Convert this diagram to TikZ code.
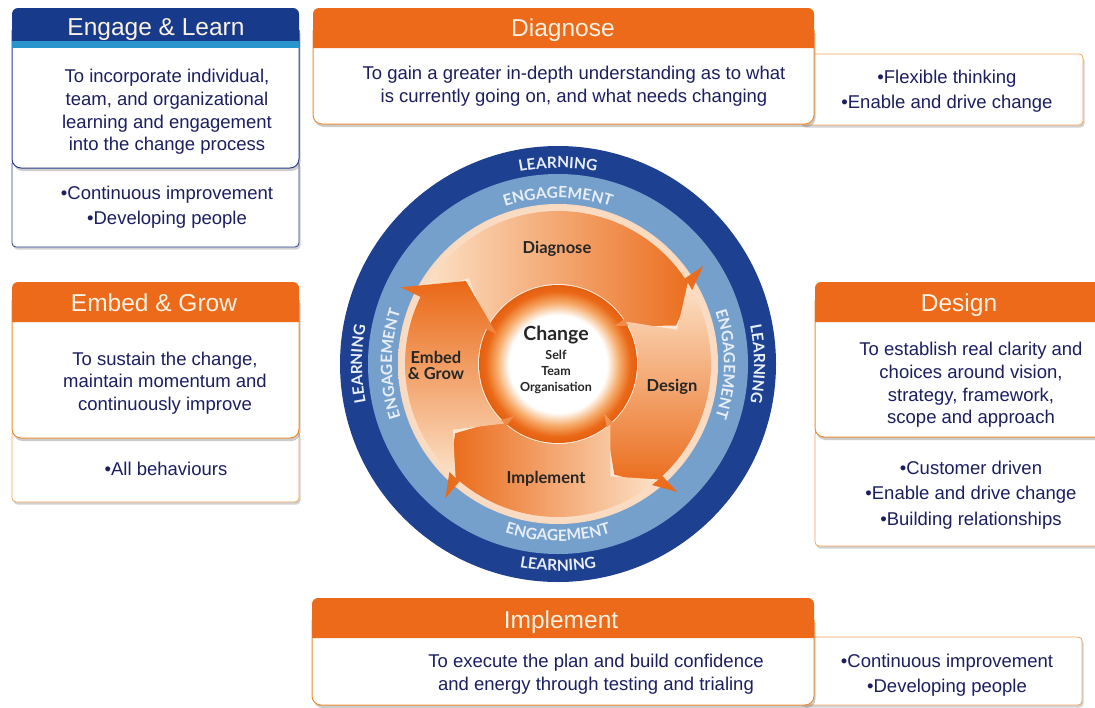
\documentclass[tikz,border=0pt]{standalone}
\usepackage{fontspec}
\setmainfont{Liberation Sans}
\newfontfamily\ringfont{Lato}
\usetikzlibrary{decorations.text,shadows}
\definecolor{cardorange}{RGB}{236,106,26}
\definecolor{cardnavy}{RGB}{24,58,138}
\definecolor{cardsky}{RGB}{40,150,205}
\definecolor{edgeorange}{RGB}{238,140,50}
\definecolor{edgenavy}{RGB}{44,62,140}
\definecolor{inknavy}{RGB}{28,30,96}
\definecolor{headtext}{RGB}{252,242,228}
\definecolor{ringdark}{RGB}{30,64,144}
\definecolor{ringlight}{RGB}{118,160,204}
\definecolor{ringtext}{RGB}{232,238,248}
\definecolor{arrowlight}{RGB}{252,226,200}
\definecolor{arroworange}{RGB}{234,104,22}
\definecolor{rimorange}{RGB}{226,96,16}
\definecolor{peachin}{RGB}{255,246,236}
\definecolor{peachout}{RGB}{249,218,192}
\definecolor{glowmid}{RGB}{246,170,104}
\pgfdeclareradialshading{centreglow}{\pgfpoint{0bp}{0bp}}{color(0bp)=(white); color(15.5bp)=(white); color(19.5bp)=(glowmid); color(23bp)=(arroworange); color(25bp)=(rimorange); color(50bp)=(rimorange)}
\pgfdeclareradialshading{peachdisk}{\pgfpoint{0bp}{0bp}}{color(0bp)=(peachin); color(12bp)=(peachin); color(25bp)=(peachout); color(50bp)=(peachout)}
% tail angle, head angle, shading
\newcommand{\cyclearrow}[3]{%
  \shade[#3] (#1-2:153) arc[start angle=#1-2, end angle=#2, radius=153]
    -- (#2:175) -- (#2-16:124) -- (#2:68) -- (#2:80)
    arc[start angle=#2, end angle=#1-2, radius=80] -- (#1-18:124) -- cycle;}
\newcommand{\ringlabel}{\ringfont\bfseries\fontsize{15.5}{15.5}\selectfont}

\begin{document}
\begin{tikzpicture}[x=1pt, y=-1pt,
  headfill/.style={fill=cardorange, rounded corners=6pt},
  cardbody/.style={draw=edgeorange, fill=white, line width=1pt, rounded corners=9pt,
    drop shadow={shadow xshift=1.5pt, shadow yshift=-3pt, opacity=0.4}},
  cardlow/.style={draw=edgeorange!80, fill=white, line width=0.8pt, rounded corners=4pt,
    drop shadow={shadow xshift=1.5pt, shadow yshift=-2.5pt, opacity=0.35}},
  cardtitle/.style={text=headtext, anchor=base, font=\fontsize{24.5}{25}\selectfont},
  cardtext/.style={text=inknavy, align=center, font=\fontsize{18.5}{22.7}\selectfont},
  bullettext/.style={text=inknavy, align=center, font=\fontsize{18.5}{25.5}\selectfont},
  ringword/.style={decorate, decoration={text along path, text align=center,
    text color=ringtext, text={|\ringlabel|#1}}},
  stagelabel/.style={font=\ringfont\bfseries\fontsize{16.5}{17}\selectfont, text=black!85, align=center}]
  \useasboundingbox (0,0) rectangle (1095,707);
  \fill[white] (0,0) rectangle (1095,707);

  % Engage & Learn
  \draw[cardlow, draw=edgenavy] (12,160) rectangle (299,247);
  \draw[cardbody, draw=edgenavy] (12,30) -- (12,168) -- (299,168) -- (299,30);
  \fill[headfill, fill=cardnavy] (12,44) -- (12,8) -- (299,8) -- (299,44);
  \fill[cardsky] (12,41) rectangle (299,48);
  \node[cardtitle] (engagetitle) at (156,35) {Engage \& Learn};
  \node[cardtext] (engagetext) at (167,112) {To incorporate individual,\\team, and organizational\\learning and engagement\\into the change process};
  \node[bullettext] (engagelist) at (167,207) {•Continuous improvement\\•Developing people};

  % Diagnose
  \draw[cardlow] (800,54) rectangle (1083,125);
  \draw[cardbody] (313,30) -- (313,124) -- (814,124) -- (814,30);
  \fill[headfill] (313,48) -- (313,8) -- (814,8) -- (814,48);
  \node[cardtitle] (diagnosetitle) at (563,36) {Diagnose};
  \node[cardtext] (diagnosetext) at (574,86) {To gain a greater in-depth understanding as to what\\is currently going on, and what needs changing};
  \node[bullettext] (diagnoselist) at (947,91) {•Flexible thinking\\•Enable and drive change};

  % Embed & Grow
  \draw[cardlow] (12,430) rectangle (299,502);
  \draw[cardbody] (12,300) -- (12,438) -- (299,438) -- (299,300);
  \fill[headfill] (12,322) -- (12,282) -- (299,282) -- (299,322);
  \node[cardtitle] (embedtitle) at (154,311) {Embed \& Grow};
  \node[cardtext] (embedtext) at (165,383) {To sustain the change,\\maintain momentum and\\continuously improve};
  \node[bullettext] (embedlist) at (166,469) {•All behaviours};

  % Design
  \draw[cardlow] (815,430) rectangle (1110,546);
  \draw[cardbody] (815,300) -- (815,437) -- (1110,437) -- (1110,300);
  \fill[headfill] (815,322) -- (815,282) -- (1110,282) -- (1110,322);
  \node[cardtitle] (designtitle) at (959,311) {Design};
  \node[cardtext] (designtext) at (971,385) {To establish real clarity and\\choices around vision,\\strategy, framework,\\scope and approach};
  \node[bullettext] (designlist) at (971,495) {•Customer driven\\•Enable and drive change\\•Building relationships};

  % Implement
  \draw[cardlow] (800,637) rectangle (1082,705);
  \draw[cardbody] (312,620) -- (312,705) -- (814,705) -- (814,620);
  \fill[headfill] (312,638) -- (312,598) -- (814,598) -- (814,638);
  \node[cardtitle] (implementtitle) at (561,628) {Implement};
  \node[cardtext] (implementtext) at (596,674) {To execute the plan and build confidence\\and energy through testing and trialing};
  \node[bullettext] (implementlist) at (947,675) {•Continuous improvement\\•Developing people};

  % the change wheel
  \begin{scope}[shift={(558,364)}, y=1pt]
    \fill[ringdark] (0,0) circle[radius=218];
    \fill[ringlight] (0,0) circle[radius=190];
    \shade[shading=peachdisk] (0,0) circle[radius=160];
    \foreach \a in {90,180,0} {
      \path[ringword=LEARNING] (\a+30:196) arc[start angle=\a+30, end angle=\a-30, radius=196];
      \path[ringword=ENGAGEMENT] (\a+40:166) arc[start angle=\a+40, end angle=\a-40, radius=166];
    }
    \path[ringword=LEARNING] (240:207) arc[start angle=240, end angle=300, radius=207];
    \path[ringword=ENGAGEMENT] (230:177) arc[start angle=230, end angle=310, radius=177];
    \shade[shading=centreglow] (0,0) circle[radius=79];
    \cyclearrow{154}{34}{left color=arrowlight, right color=arroworange}
    \cyclearrow{34}{-47}{top color=arrowlight, bottom color=arroworange}
    \cyclearrow{-47}{-130}{right color=arrowlight, left color=arroworange}
    \cyclearrow{230}{154}{bottom color=arrowlight, top color=arroworange}
    \node[stagelabel] (diagnosestage) at (-1,115) {Diagnose};
    \node[stagelabel] (designstage) at (114,-23) {Design};
    \node[stagelabel] (implementstage) at (-12,-115) {Implement};
    \node[stagelabel] (embedstage) at (-122,-1) {Embed\\[-1pt]\& Grow};
    \node[stagelabel, font=\ringfont\bfseries\fontsize{19.5}{20}\selectfont] (change) at (-2,29) {Change};
    \node[stagelabel, font=\ringfont\bfseries\fontsize{12.5}{16}\selectfont] (members) at (-2,-8) {Self\\Team\\Organisation};
  \end{scope}
\end{tikzpicture}
\end{document}
